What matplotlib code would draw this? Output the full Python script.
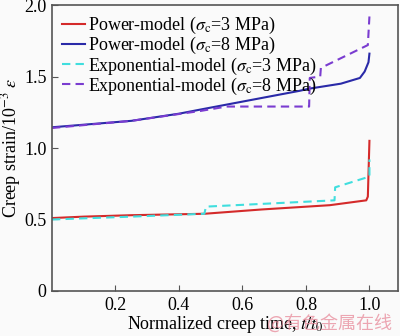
import matplotlib.pyplot as plt

plt.rcParams['font.family'] = ['Liberation Serif', 'DejaVu Serif']
plt.rcParams['mathtext.fontset'] = 'stix'

# Power-model, sigma_c = 3 MPa
t_pow3 = [0.0, 0.1, 0.25, 0.48, 0.66, 0.875, 0.99, 0.995, 1.0]
e_pow3 = [0.51, 0.52, 0.53, 0.54, 0.57, 0.60, 0.634, 0.66, 1.05]

# Power-model, sigma_c = 8 MPa
t_pow8 = [0.0, 0.25, 0.40, 0.47, 0.78, 0.81, 0.91, 0.97, 0.985, 0.997, 1.0]
e_pow8 = [1.145, 1.19, 1.24, 1.27, 1.40, 1.415, 1.45, 1.49, 1.535, 1.60, 1.66]

# Exponential-model, sigma_c = 3 MPa
t_exp3 = [0.0, 0.25, 0.48, 0.485, 0.89, 0.892, 1.0, 1.0]
e_exp3 = [0.50, 0.52, 0.54, 0.59, 0.634, 0.725, 0.80, 0.92]

# Exponential-model, sigma_c = 8 MPa
t_exp8 = [0.0, 0.25, 0.47, 0.55, 0.81, 0.812, 0.845, 0.847, 0.995, 1.0]
e_exp8 = [1.14, 1.19, 1.26, 1.29, 1.29, 1.49, 1.50, 1.56, 1.72, 1.92]

fig = plt.figure(figsize=(4.0, 3.36), dpi=100, facecolor='#fafafa')
ax = fig.add_axes([0.13, 0.134, 0.865, 0.851])
ax.set_facecolor('#fafafa')

ax.plot(t_pow3, e_pow3, color='#d42a2a', lw=1.5, label=r'Power-model ($\sigma_{\rm c}$=3 MPa)')
ax.plot(t_pow8, e_pow8, color='#2a2aa8', lw=1.5, label=r'Power-model ($\sigma_{\rm c}$=8 MPa)')
ax.plot(t_exp3, e_exp3, color='#40dede', lw=1.5, ls=(0, (4, 2.5)), label=r'Exponential-model ($\sigma_{\rm c}$=3 MPa)')
ax.plot(t_exp8, e_exp8, color='#7a3cd0', lw=1.5, ls=(0, (4, 2.5)), label=r'Exponential-model ($\sigma_{\rm c}$=8 MPa)')

ax.set_xlim(0, 1.09)
ax.set_ylim(0, 2.0)
ax.set_xticks([0.2, 0.4, 0.6, 0.8, 1.0])
ax.set_xticklabels(['0.2', '0.4', '0.6', '0.8', '1.0'])
ax.set_yticks([0, 0.5, 1.0, 1.5, 2.0])
ax.set_yticklabels(['0', '0.5', '1.0', '1.5', '2.0'])
ax.tick_params(direction='in', labelsize=13, length=4, color='#555555', pad=4)
for s in ax.spines.values():
    s.set_color('#555555')
    s.set_linewidth(1.2)

ax.set_xlabel(r'Normalized creep time, $t/t_0$', fontsize=13, labelpad=0)
ax.set_ylabel(r'Creep strain/10$^{-3}$ $\varepsilon$', fontsize=13, labelpad=1)

ax.legend(loc='upper left', frameon=False, fontsize=13, handlelength=1.3,
          handletextpad=0.15, labelspacing=-0.05, borderaxespad=0.25,
          borderpad=0.3)

# watermark, bottom right as in the source image
fig.text(0.98, 0.01, '@有色金属在线', color='#e88a9a', fontsize=13, ha='right', va='bottom',
         family=['Noto Sans CJK SC', 'DejaVu Sans'], alpha=0.75)

fig.savefig('out.png', dpi=100, facecolor=fig.get_facecolor())
